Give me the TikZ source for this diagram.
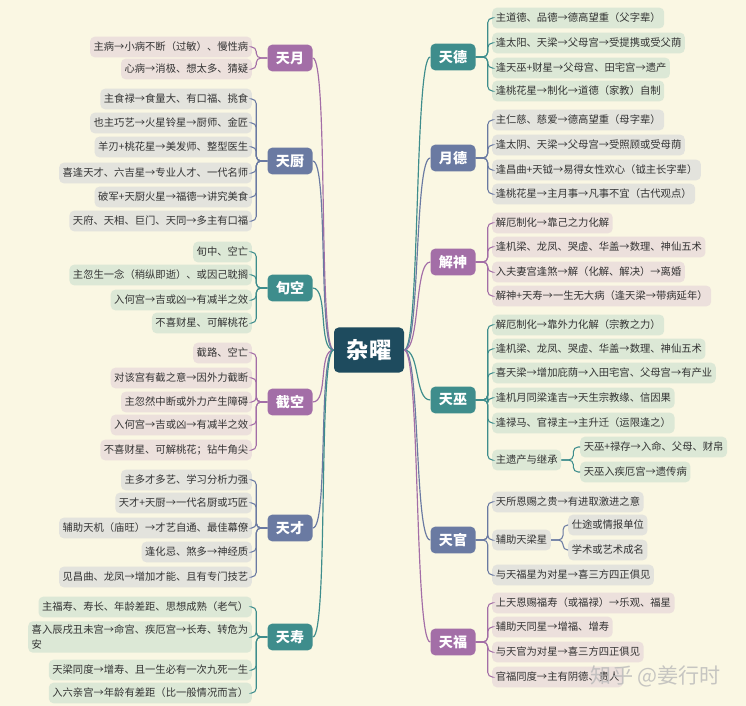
\documentclass[tikz,border=0pt]{standalone}
\usepackage{fontspec}
\setmainfont{Noto Sans CJK SC}
\usetikzlibrary{positioning}

\definecolor{bgcream}{HTML}{FAF7E3}
\definecolor{hubblue}{HTML}{1E4B5E}
\definecolor{cpurple}{HTML}{A36EA7}
\definecolor{cslate}{HTML}{6A7AA2}
\definecolor{cteal}{HTML}{3E8D8C}
\definecolor{purpleaf}{HTML}{ECE0DC}
\definecolor{slateleaf}{HTML}{E3E3DD}
\definecolor{tealleaf}{HTML}{DCE8D6}
\definecolor{inkgray}{HTML}{333333}

\begin{document}
\begin{tikzpicture}[
    x=0.03cm, y=-0.03cm,
    hub/.style={fill=hubblue, text=white, rounded corners=4pt,
                minimum width=2.1cm, minimum height=1.35cm,
                font=\fontsize{19}{22}\selectfont\bfseries},
    branch/.style={text=white, rounded corners=4pt,
                   minimum width=1.35cm, minimum height=0.8cm,
                   font=\fontsize{12}{14}\selectfont\bfseries},
    leaf/.style={text=inkgray, rounded corners=4pt, minimum height=0.62cm,
                 inner xsep=3pt, align=left,
                 font=\fontsize{8.8}{12}\selectfont},
    leafL/.style={leaf, anchor=east},
    leafR/.style={leaf, anchor=west},
    link/.style={line width=0.9pt, rounded corners=4pt},
    spoke/.style={line width=1pt}
  ]
  \fill[bgcream] (0,0) rectangle (746,706);
  \useasboundingbox (0,0) rectangle (746,706);

  \node[hub] (zy) at (369,350) {杂曜};

  % left side
  \node[branch, fill=cpurple] (tianyue) at (290,58) {天月};
  \foreach \y/\t [count=\i] in {47/{主病→小病不断（过敏）、慢性病},
                                69/{心病→消极、想太多、猜疑}} {
    \node[leafL, fill=purpleaf] (tianyue\i) at (252,\y) {\t};
    \draw[link, cpurple] (tianyue.west) -- ++(-11,0) |- (tianyue\i.east);
  }

  \node[branch, fill=cslate] (tianchu) at (290,161) {天厨};
  \foreach \y/\t [count=\i] in {99/{主食禄→食量大、有口福、挑食},
                                123/{也主巧艺→火星铃星→厨师、金匠},
                                147/{羊刃+桃花星→美发师、整型医生},
                                173/{喜逢天才、六吉星→专业人才、一代名师},
                                197/{破军+天厨火星→福德→讲究美食},
                                221/{天府、天相、巨门、天同→多主有口福}} {
    \node[leafL, fill=slateleaf] (tianchu\i) at (252,\y) {\t};
    \draw[link, cslate] (tianchu.west) -- ++(-11,0) |- (tianchu\i.east);
  }

  \node[branch, fill=cteal] (xunkong) at (290,288) {旬空};
  \foreach \y/\t [count=\i] in {252/{旬中、空亡},
                                275/{主忽生一念（稍纵即逝）、或因己耽搁},
                                300/{入何宫→吉或凶→有减半之效},
                                323/{不喜财星、可解桃花}} {
    \node[leafL, fill=tealleaf] (xunkong\i) at (252,\y) {\t};
    \draw[link, cteal] (xunkong.west) -- ++(-11,0) |- (xunkong\i.east);
  }

  \node[branch, fill=cpurple] (jiekong) at (290,402) {截空};
  \foreach \y/\t [count=\i] in {353/{截路、空亡},
                                378/{对该宫有截之意→因外力截断},
                                402/{主忽然中断或外力产生障碍},
                                425/{入何宫→吉或凶→有减半之效},
                                450/{不喜财星、可解桃花；钻牛角尖}} {
    \node[leafL, fill=purpleaf] (jiekong\i) at (252,\y) {\t};
    \draw[link, cpurple] (jiekong.west) -- ++(-11,0) |- (jiekong\i.east);
  }

  \node[branch, fill=cslate] (tiancai) at (290,528) {天才};
  \foreach \y/\t [count=\i] in {480/{主多才多艺、学习分析力强},
                                503/{天才+天厨→一代名厨或巧匠},
                                528/{辅助天机（庙旺）→才艺自通、最佳幕僚},
                                552/{逢化忌、煞多→神经质},
                                577/{见昌曲、龙凤→增加才能、且有专门技艺}} {
    \node[leafL, fill=slateleaf] (tiancai\i) at (252,\y) {\t};
    \draw[link, cslate] (tiancai.west) -- ++(-11,0) |- (tiancai\i.east);
  }

  \node[branch, fill=cteal] (tianshou) at (290,637) {天寿};
  \foreach \y/\t [count=\i] in {607/{主福寿、寿长、年龄差距、思想成熟（老气）},
                                637/{喜入辰戌丑未宫→命宫、疾厄宫→长寿、转危为\\安},
                                670/{天梁同度→增寿、且一生必有一次九死一生},
                                693/{入六亲宫→年龄有差距（比一般情况而言）}} {
    \node[leafL, fill=tealleaf] (tianshou\i) at (252,\y) {\t};
    \draw[link, cteal] (tianshou.west) -- ++(-11,0) |- (tianshou\i.east);
  }

  % right side
  \node[branch, fill=cteal] (tiande) at (453,57) {天德};
  \foreach \y/\t [count=\i] in {18/{主道德、品德→德高望重（父字辈）},
                                43/{逢太阳、天梁→父母宫→受提携或受父荫},
                                68/{逢天巫+财星→父母宫、田宅宫→遗产},
                                91/{逢桃花星→制化→道德（家教）自制}} {
    \node[leafR, fill=tealleaf] (tiande\i) at (492,\y) {\t};
    \draw[link, cteal] (tiande.east) -- ++(12,0) |- (tiande\i.west);
  }

  \node[branch, fill=cslate] (yuede) at (453,158) {月德};
  \foreach \y/\t [count=\i] in {120/{主仁慈、慈爱→德高望重（母字辈）},
                                145/{逢太阴、天梁→父母宫→受照顾或受母荫},
                                170/{逢昌曲+天钺→易得女性欢心（钺主长字辈）},
                                194/{逢桃花星→主月事→凡事不宜（古代观点）}} {
    \node[leafR, fill=slateleaf] (yuede\i) at (492,\y) {\t};
    \draw[link, cslate] (yuede.east) -- ++(12,0) |- (yuede\i.west);
  }

  \node[branch, fill=cpurple] (jieshen) at (453,262) {解神};
  \foreach \y/\t [count=\i] in {223/{解厄制化→靠己之力化解},
                                247/{逢机梁、龙凤、哭虚、华盖→数理、神仙五术},
                                272/{入夫妻宫逢煞→解（化解、解决）→离婚},
                                296/{解神+天寿→一生无大病（逢天梁→带病延年）}} {
    \node[leafR, fill=purpleaf] (jieshen\i) at (492,\y) {\t};
    \draw[link, cpurple] (jieshen.east) -- ++(12,0) |- (jieshen\i.west);
  }

  \node[branch, fill=cteal] (tianwu) at (453,400) {天巫};
  \foreach \y/\t [count=\i] in {325/{解厄制化→靠外力化解（宗教之力）},
                                349/{逢机梁、龙凤、哭虚、华盖→数理、神仙五术},
                                373/{喜天梁→增加庇荫→入田宅宫、父母宫→有产业},
                                398/{逢机月同梁逢吉→天生宗教缘、信因果},
                                423/{逢禄马、官禄主→主升迁（运限逢之）},
                                460/{主遗产与继承}} {
    \node[leafR, fill=tealleaf] (tianwu\i) at (492,\y) {\t};
    \draw[link, cteal] (tianwu.east) -- ++(12,0) |- (tianwu\i.west);
  }
  \foreach \y/\t [count=\i] in {447/{天巫+禄存→入命、父母、财帛},
                                472/{天巫入疾厄宫→遗传病}} {
    \node[leafR, fill=tealleaf] (yichan\i) at (580,\y) {\t};
    \draw[link, cteal] (tianwu6.east) -- ++(12,0) |- (yichan\i.west);
  }

  \node[branch, fill=cslate] (tianguan) at (453,540) {天官};
  \foreach \y/\t [count=\i] in {502/{天所恩赐之贵→有进取激进之意},
                                540/{辅助天梁星},
                                575/{与天福星为对星→喜三方四正俱见}} {
    \node[leafR, fill=slateleaf] (tianguan\i) at (492,\y) {\t};
    \draw[link, cslate] (tianguan.east) -- ++(12,0) |- (tianguan\i.west);
  }
  \foreach \y/\t [count=\i] in {525/{仕途或情报单位},
                                550/{学术或艺术成名}} {
    \node[leafR, fill=slateleaf] (tianliang\i) at (568,\y) {\t};
    \draw[link, cslate] (tianguan2.east) -- ++(12,0) |- (tianliang\i.west);
  }

  \node[branch, fill=cpurple] (tianfu) at (453,642) {天福};
  \foreach \y/\t [count=\i] in {603/{上天恩赐福寿（或福禄）→乐观、福星},
                                627/{辅助天同星→增福、增寿},
                                652/{与天官为对星→喜三方四正俱见},
                                677/{官福同度→主有阴德、贵人}} {
    \node[leafR, fill=purpleaf] (tianfu\i) at (492,\y) {\t};
    \draw[link, cpurple] (tianfu.east) -- ++(12,0) |- (tianfu\i.west);
  }

  % spokes from the hub
  \foreach \b/\c in {tianyue/cpurple, tianchu/cslate, xunkong/cteal,
                     jiekong/cpurple, tiancai/cslate, tianshou/cteal} {
    \draw[spoke, \c] (zy.west) .. controls +(-16,0) and +(16,0) .. (\b.east);
  }
  \foreach \b/\c in {tiande/cteal, yuede/cslate, jieshen/cpurple,
                     tianwu/cteal, tianguan/cslate, tianfu/cpurple} {
    \draw[spoke, \c] (zy.east) .. controls +(16,0) and +(-16,0) .. (\b.west);
  }

  \node[font=\fontsize{18}{20}\selectfont, text=gray!55, opacity=0.8]
    (mark) at (656,676) {知乎 @姜行时};
\end{tikzpicture}
\end{document}
